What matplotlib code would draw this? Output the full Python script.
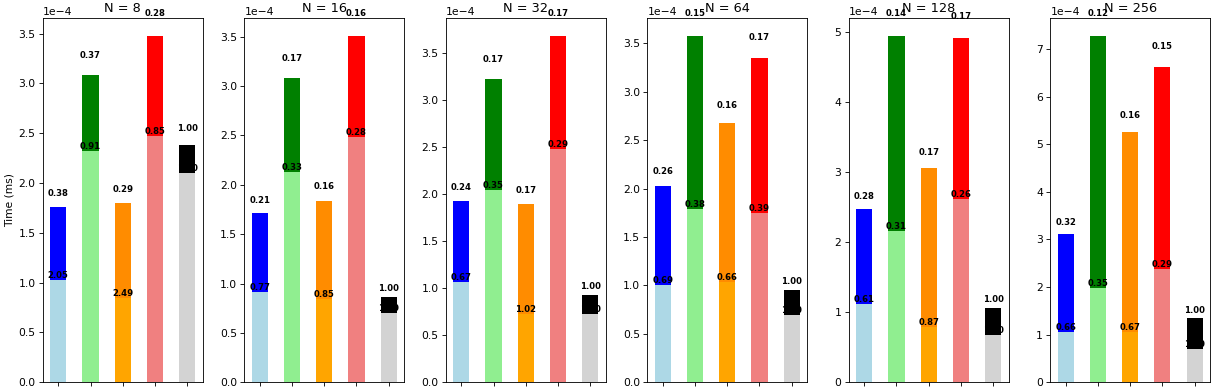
import matplotlib
matplotlib.use('Agg')
import matplotlib.pyplot as plt
import numpy as np

# times in units of 1e-4 ms
Ns = [8, 16, 32, 64, 128, 256]
base_time = [
  [1.03, 2.32, 0.85, 2.47, 2.10],
  [0.91, 2.13, 0.84, 2.48, 0.70],
  [1.07, 2.05, 0.73, 2.48, 0.73],
  [1.00, 1.79, 1.04, 1.75, 0.69],
  [1.12, 2.16, 0.79, 2.62, 0.68],
  [1.05, 1.98, 1.06, 2.37, 0.70],
]
total_time = [
  [1.76, 3.08, 1.80, 3.48, 2.38],
  [1.71, 3.08, 1.84, 3.51, 0.865],
  [1.925, 3.23, 1.90, 3.69, 0.93],
  [2.03, 3.58, 2.68, 3.35, 0.95],
  [2.47, 4.95, 3.06, 4.91, 1.06],
  [3.11, 7.28, 5.25, 6.62, 1.34],
]
base_labels = [
  ['2.05', '0.91', '2.49', '0.85', '1.00'],
  ['0.77', '0.33', '0.85', '0.28', '1.00'],
  ['0.67', '0.35', '1.02', '0.29', '1.00'],
  ['0.69', '0.38', '0.66', '0.39', '1.00'],
  ['0.61', '0.31', '0.87', '0.26', '1.00'],
  ['0.66', '0.35', '0.67', '0.29', '1.00'],
]
top_labels = [
  ['0.38', '0.37', '0.29', '0.28', '1.00'],
  ['0.21', '0.17', '0.16', '0.16', '1.00'],
  ['0.24', '0.17', '0.17', '0.17', '1.00'],
  ['0.26', '0.15', '0.16', '0.17', '1.00'],
  ['0.28', '0.14', '0.17', '0.17', '1.00'],
  ['0.32', '0.12', '0.16', '0.15', '1.00'],
]
base_colors = ['lightblue', 'lightgreen', 'orange', 'lightcoral', 'lightgray']
top_colors = ['blue', 'green', 'darkorange', 'red', 'black']

DPI = 77
fig, axes = plt.subplots(1, 6, figsize=(1214 / DPI, 388 / DPI), dpi=DPI)
x = np.arange(5)
for i, ax in enumerate(axes):
  b = np.array(base_time[i]) * 1e-4
  t = np.array(total_time[i]) * 1e-4
  ax.bar(x, b, width=0.5, color=base_colors)
  ax.bar(x, t - b, width=0.5, bottom=b, color=top_colors)
  for j in range(5):
    ax.text(x[j], b[j], base_labels[i][j], ha='center', va='bottom',
            fontsize=8, fontweight='bold')
    ax.text(x[j], t[j] * 1.05, top_labels[i][j], ha='center', va='bottom',
            fontsize=8, fontweight='bold')
  ax.set_xticks(x)
  ax.set_xticklabels([''] * 5)
  ax.set_title(f'N = {Ns[i]}')
  ax.ticklabel_format(axis='y', style='sci', scilimits=(0, 0))
axes[0].set_ylabel('Time (ms)')

plt.subplots_adjust(left=0.0354, right=0.9967, top=0.953, bottom=0.0147, wspace=0.2625)
plt.savefig('out.png', dpi=DPI)
